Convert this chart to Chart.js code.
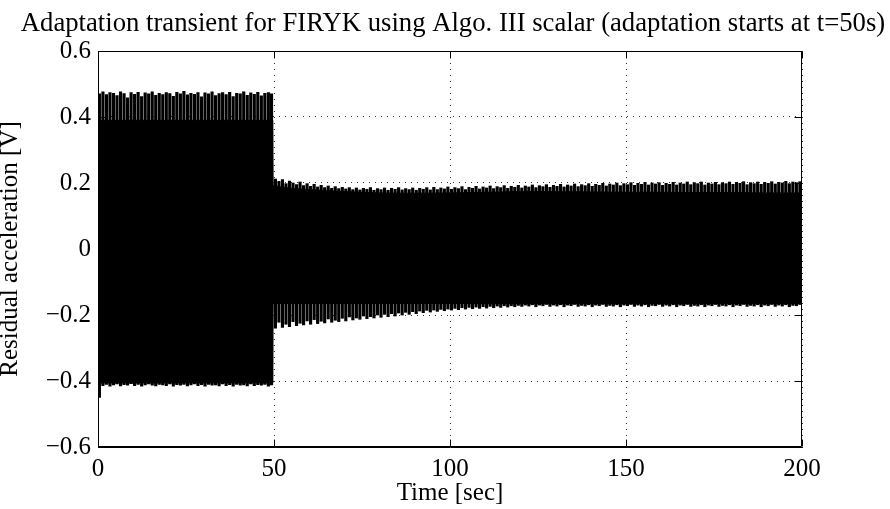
<!DOCTYPE html>
<html><head><meta charset="utf-8">
<script src="https://cdn.jsdelivr.net/npm/chart.js@4.4.1/dist/chart.umd.min.js"></script>
<style>html,body{margin:0;padding:0;background:#fff;}</style>
</head><body>
<canvas id="c" width="890" height="509" style="display:block;width:890px;height:509px"></canvas>
<script>
const titleText = 'Adaptation transient for FIRYK using Algo. III scalar (adaptation starts at t=50s)';
const xAxisTitle = 'Time [sec]';
const yAxisTitle = 'Residual acceleration [V]';
const xTicks = [0, 50, 100, 150, 200];
const yTicks = [-0.6, -0.4, -0.2, 0, 0.2, 0.4, 0.6];

// dense part of the oscillation (envelope of the solid black band)
const coreTimes = [0, 49.65, 49.75, 52, 55, 60, 65, 70, 75, 80, 90, 100, 110, 120, 130, 140, 150, 160, 170, 180, 190, 200];
const coreHigh  = [0.39, 0.39, 0.192, 0.188, 0.184, 0.180, 0.177, 0.174, 0.172, 0.170, 0.169, 0.170, 0.172, 0.174, 0.174, 0.173, 0.172, 0.172, 0.171, 0.171, 0.170, 0.170];
const coreLow   = [-0.406, -0.406, -0.165, -0.165, -0.165, -0.165, -0.165, -0.165, -0.165, -0.165, -0.165, -0.165, -0.166, -0.166, -0.166, -0.166, -0.166, -0.166, -0.166, -0.166, -0.166, -0.166];

// individual peaks (spikes) of the oscillation, one per second
const spikeTimes = [
0.4,1.4,2.4,3.4,4.4,5.4,6.4,7.4,8.4,9.4,10.4,11.4,12.4,13.4,14.4,15.4,16.4,17.4,18.4,19.4,
20.4,21.4,22.4,23.4,24.4,25.4,26.4,27.4,28.4,29.4,30.4,31.4,32.4,33.4,34.4,35.4,36.4,37.4,38.4,39.4,
40.4,41.4,42.4,43.4,44.4,45.4,46.4,47.4,48.4,49.3,
50.4,51.4,52.4,53.4,54.4,55.4,56.4,57.4,58.4,59.4,60.4,61.4,62.4,63.4,64.4,65.4,66.4,67.4,68.4,69.4,
70.4,71.4,72.4,73.4,74.4,75.4,76.4,77.4,78.4,79.4,80.4,81.4,82.4,83.4,84.4,85.4,86.4,87.4,88.4,89.4,
90.4,91.4,92.4,93.4,94.4,95.4,96.4,97.4,98.4,99.4,100.4,101.4,102.4,103.4,104.4,105.4,106.4,107.4,108.4,109.4,
110.4,111.4,112.4,113.4,114.4,115.4,116.4,117.4,118.4,119.4,120.4,121.4,122.4,123.4,124.4,125.4,126.4,127.4,128.4,129.4,
130.4,131.4,132.4,133.4,134.4,135.4,136.4,137.4,138.4,139.4,140.4,141.4,142.4,143.4,144.4,145.4,146.4,147.4,148.4,149.4,
150.4,151.4,152.4,153.4,154.4,155.4,156.4,157.4,158.4,159.4,160.4,161.4,162.4,163.4,164.4,165.4,166.4,167.4,168.4,169.4,
170.4,171.4,172.4,173.4,174.4,175.4,176.4,177.4,178.4,179.4,180.4,181.4,182.4,183.4,184.4,185.4,186.4,187.4,188.4,189.4,
190.4,191.4,192.4,193.4,194.4,195.4,196.4,197.4,198.4,199.4];
const spikeHigh = [
0.470,0.476,0.468,0.474,0.472,0.465,0.476,0.471,0.458,0.474,0.469,0.475,0.462,0.473,0.470,0.476,0.466,0.472,0.468,0.474,
0.471,0.463,0.475,0.470,0.478,0.467,0.472,0.469,0.474,0.461,0.473,0.470,0.476,0.465,0.471,0.474,0.468,0.475,0.462,0.472,
0.470,0.476,0.466,0.473,0.469,0.475,0.464,0.472,0.474,0.470,
0.212,0.205,0.210,0.198,0.206,0.200,0.195,0.203,0.192,0.198,0.190,0.196,0.188,0.193,0.186,0.191,0.184,0.189,0.183,0.187,
0.182,0.186,0.180,0.185,0.179,0.184,0.181,0.186,0.178,0.183,0.180,0.185,0.178,0.184,0.181,0.186,0.179,0.183,0.180,0.185,
0.178,0.184,0.181,0.186,0.179,0.187,0.180,0.185,0.182,0.188,0.181,0.186,0.183,0.189,0.180,0.187,0.184,0.190,0.182,0.188,
0.185,0.191,0.183,0.189,0.186,0.192,0.184,0.190,0.187,0.193,0.185,0.191,0.188,0.194,0.186,0.192,0.189,0.195,0.187,0.193,
0.190,0.196,0.188,0.194,0.191,0.197,0.189,0.195,0.192,0.198,0.190,0.196,0.193,0.199,0.191,0.197,0.194,0.200,0.192,0.198,
0.195,0.201,0.193,0.199,0.196,0.202,0.194,0.200,0.197,0.201,0.193,0.199,0.196,0.202,0.194,0.200,0.197,0.203,0.195,0.201,
0.198,0.203,0.194,0.200,0.197,0.202,0.195,0.201,0.198,0.203,0.196,0.202,0.199,0.204,0.195,0.201,0.198,0.203,0.196,0.202,
0.199,0.204,0.197,0.202,0.200,0.205,0.198,0.203,0.201,0.204];
const spikeLow = [
-0.450,-0.414,-0.410,-0.416,-0.412,-0.409,-0.415,-0.411,-0.413,-0.408,-0.414,-0.410,-0.416,-0.412,-0.409,-0.413,-0.415,-0.410,-0.412,-0.414,
-0.409,-0.416,-0.411,-0.413,-0.410,-0.415,-0.412,-0.409,-0.414,-0.411,-0.416,-0.410,-0.413,-0.412,-0.415,-0.409,-0.414,-0.411,-0.416,-0.410,
-0.413,-0.412,-0.415,-0.409,-0.414,-0.411,-0.413,-0.410,-0.416,-0.412,
-0.240,-0.222,-0.238,-0.228,-0.235,-0.220,-0.232,-0.225,-0.230,-0.218,-0.228,-0.214,-0.226,-0.219,-0.224,-0.212,-0.222,-0.216,-0.220,-0.210,
-0.218,-0.206,-0.215,-0.209,-0.213,-0.203,-0.211,-0.205,-0.209,-0.200,-0.207,-0.198,-0.205,-0.196,-0.203,-0.194,-0.200,-0.192,-0.198,-0.190,
-0.196,-0.188,-0.193,-0.186,-0.191,-0.185,-0.189,-0.183,-0.187,-0.182,-0.185,-0.180,-0.184,-0.178,-0.182,-0.177,-0.181,-0.176,-0.180,-0.175,
-0.179,-0.174,-0.178,-0.173,-0.177,-0.172,-0.176,-0.172,-0.175,-0.171,-0.174,-0.170,-0.173,-0.169,-0.175,-0.170,-0.172,-0.168,-0.174,-0.170,
-0.173,-0.169,-0.175,-0.170,-0.172,-0.168,-0.174,-0.171,-0.173,-0.169,-0.175,-0.170,-0.172,-0.168,-0.174,-0.171,-0.173,-0.169,-0.175,-0.170,
-0.172,-0.168,-0.174,-0.170,-0.173,-0.169,-0.175,-0.171,-0.172,-0.168,-0.174,-0.170,-0.173,-0.169,-0.175,-0.170,-0.172,-0.168,-0.174,-0.171,
-0.173,-0.169,-0.175,-0.170,-0.172,-0.168,-0.174,-0.171,-0.173,-0.169,-0.175,-0.170,-0.172,-0.168,-0.174,-0.171,-0.173,-0.169,-0.175,-0.170,
-0.172,-0.168,-0.174,-0.170,-0.173,-0.169,-0.175,-0.171,-0.172,-0.168];

const FONT = 'Liberation Serif, Times New Roman, serif';
const fmt = v => (v < 0 ? '\u2212' : '') + String(Math.abs(v));

const frame = {
  id: 'frame',
  afterDatasetsDraw(chart) {
    const {ctx, chartArea: a, scales} = chart;
    ctx.save();
    ctx.strokeStyle = '#000';
    ctx.lineWidth = 1;
    const L = Math.round(a.left) + 0.5, R = Math.round(a.right) - 0.5;
    const T = Math.round(a.top) + 0.5, B = Math.round(a.bottom) - 0.5;
    ctx.beginPath();
    ctx.rect(L, T, R - L, B - T);
    const tl = 7;
    xTicks.forEach(v => {
      const x = Math.round(scales.x.getPixelForValue(v)) + 0.5;
      ctx.moveTo(x, B); ctx.lineTo(x, B - tl);
      ctx.moveTo(x, T); ctx.lineTo(x, T + tl);
    });
    yTicks.forEach(v => {
      const y = Math.round(scales.y.getPixelForValue(v)) + 0.5;
      ctx.moveTo(L, y); ctx.lineTo(L + tl, y);
      ctx.moveTo(R, y); ctx.lineTo(R - tl, y);
    });
    ctx.stroke();
    ctx.restore();
  },
  afterDraw(chart) {
    const {ctx} = chart;
    ctx.save();
    ctx.fillStyle = '#000';
    ctx.font = '26.7px ' + FONT;
    ctx.textAlign = 'center';
    ctx.textBaseline = 'alphabetic';
    ctx.fillText(titleText, 453, 31);
    ctx.restore();
  }
};

new Chart(document.getElementById('c'), {
  type: 'bar',
  data: {
    datasets: [
      { type: 'line', data: coreTimes.map((t, i) => ({x: t, y: coreHigh[i]})),
        borderColor: '#000', borderWidth: 1, backgroundColor: '#000', pointRadius: 0, tension: 0, fill: '+1' },
      { type: 'line', data: coreTimes.map((t, i) => ({x: t, y: coreLow[i]})),
        borderColor: '#000', borderWidth: 1, pointRadius: 0, tension: 0, fill: false },
      { type: 'bar', data: spikeTimes.map((t, i) => ({x: t, y: [spikeLow[i], spikeHigh[i]]})),
        backgroundColor: '#000', borderWidth: 0, barThickness: 2.5, grouped: false }
    ]
  },
  options: {
    responsive: false,
    animation: false,
    devicePixelRatio: 1,
    layout: { padding: { top: 51, right: 88, bottom: 0, left: 0 } },
    plugins: { legend: { display: false }, tooltip: { enabled: false }, title: { display: false } },
    scales: {
      x: {
        type: 'linear', min: 0, max: 200, offset: false,
        afterBuildTicks: s => { s.ticks = xTicks.map(v => ({value: v})); },
        afterFit: s => { s.height = 62; },
        grid: { color: '#333', lineWidth: 1, drawTicks: false, offset: false },
        border: { display: true, color: '#000', width: 1, dash: [1, 5] },
        ticks: { font: { family: FONT, size: 25 }, color: '#000', padding: 7, maxRotation: 0, autoSkip: false, callback: v => fmt(v) },
        title: { display: true, text: xAxisTitle, font: { family: FONT, size: 25 }, color: '#000', padding: { top: 0, bottom: 1 } }
      },
      y: {
        type: 'linear', min: -0.6, max: 0.6,
        afterBuildTicks: s => { s.ticks = yTicks.map(v => ({value: v})); },
        afterFit: s => { s.width = 98; },
        grid: { color: '#333', lineWidth: 1, drawTicks: false },
        border: { display: true, color: '#000', width: 1, dash: [1, 5] },
        ticks: { font: { family: FONT, size: 25 }, color: '#000', padding: 7, autoSkip: false, callback: v => fmt(v) },
        title: { display: true, text: yAxisTitle, font: { family: FONT, size: 25, lineHeight: 0.8 }, color: '#000', padding: { top: 0, bottom: 0 } }
      }
    }
  },
  plugins: [frame]
});
</script>
</body></html>
